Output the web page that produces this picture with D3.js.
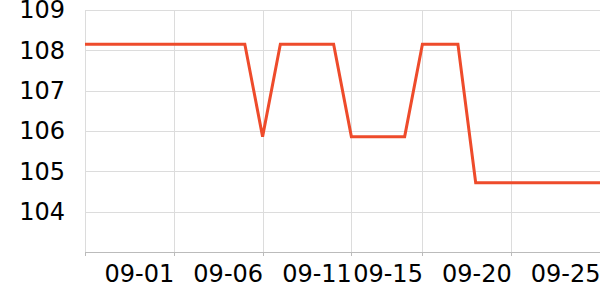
<!DOCTYPE html>
<html>
<head>
<meta charset="utf-8">
<script src="https://cdn.jsdelivr.net/npm/d3@7"></script>
<style>
  body { margin: 0; background: #fff; }
  svg { display: block; }
  text { font-family: "DejaVu Sans", sans-serif; font-size: 24px; fill: #000; }
</style>
</head>
<body>
<svg id="chart" width="600" height="300"></svg>
<script>
// daily dates 08-27 .. 09-25
var dates = ["2023-08-27", "2023-08-28", "2023-08-29", "2023-08-30", "2023-08-31",
    "2023-09-01", "2023-09-02", "2023-09-03", "2023-09-04", "2023-09-05",
    "2023-09-06", "2023-09-07", "2023-09-08", "2023-09-09", "2023-09-10",
    "2023-09-11", "2023-09-12", "2023-09-13", "2023-09-14", "2023-09-15",
    "2023-09-16", "2023-09-17", "2023-09-18", "2023-09-19", "2023-09-20",
    "2023-09-21", "2023-09-22", "2023-09-23", "2023-09-24", "2023-09-25"];
var values = [108.15, 108.15, 108.15, 108.15, 108.15, 108.15, 108.15, 108.15, 108.15, 108.15,
    105.86, 108.15, 108.15, 108.15, 108.15, 105.86, 105.86, 105.86, 105.86, 108.15,
    108.15, 108.15, 104.72, 104.72, 104.72, 104.72, 104.72, 104.72, 104.72, 104.72];
var xTicks = ["2023-08-27", "2023-09-01", "2023-09-06", "2023-09-11", "2023-09-15", "2023-09-20", "2023-09-25"];
var yTicks = [104, 105, 106, 107, 108, 109];
var yDomain = [103, 109];

var parse = d3.timeParse("%Y-%m-%d");
var data = dates.map(function(d, i) { return { date: parse(d), value: values[i] }; });
var tickDates = xTicks.map(parse);

var mLeft = 85, mRight = 600, mTop = 10, mBottom = 252;
var svg = d3.select("#chart");

var x = d3.scaleTime()
    .domain(d3.extent(data, function(d) { return d.date; }))
    .range([mLeft, mRight]);
var y = d3.scaleLinear().domain(yDomain).range([mBottom, mTop]);

// horizontal grid
svg.append("g")
    .attr("transform", "translate(" + mLeft + ",0)")
    .call(d3.axisLeft(y).tickValues(yTicks).tickSize(-(mRight - mLeft)).tickFormat(""))
    .call(function(g) {
        g.select(".domain").remove();
        g.selectAll("line").attr("stroke", "#dcdcdc").attr("shape-rendering", "crispEdges");
    });

// vertical grid
svg.append("g")
    .attr("transform", "translate(0," + mBottom + ")")
    .call(d3.axisBottom(x).tickValues(tickDates).tickSize(-(mBottom - mTop)).tickFormat(""))
    .call(function(g) {
        g.select(".domain").remove();
        g.selectAll("line").attr("stroke", "#dcdcdc").attr("shape-rendering", "crispEdges");
    });

// x axis
var fmt = d3.timeFormat("%m-%d");
svg.append("g")
    .attr("transform", "translate(0," + mBottom + ")")
    .call(d3.axisBottom(x).tickValues(tickDates).tickSize(4).tickPadding(9)
        .tickFormat(function(d, i) { return i === 0 ? "" : fmt(d); }))
    .call(function(g) {
        g.select(".domain").attr("stroke", "#bbb").attr("shape-rendering", "crispEdges");
        g.selectAll("line").attr("stroke", "#bbb").attr("shape-rendering", "crispEdges");
        g.selectAll("text").attr("text-anchor", "end").attr("font-size", null)
            .attr("font-family", null).attr("fill", "#000");
    });

// y axis labels
svg.append("g")
    .attr("transform", "translate(" + mLeft + ",0)")
    .call(d3.axisLeft(y).tickValues(yTicks).tickSize(0).tickPadding(20).tickFormat(d3.format("d")))
    .call(function(g) {
        g.select(".domain").remove();
        g.selectAll("text").attr("font-size", null).attr("font-family", null).attr("fill", "#000");
    });

// line
var line = d3.line()
    .x(function(d) { return x(d.date); })
    .y(function(d) { return y(d.value); });

svg.append("path")
    .datum(data)
    .attr("fill", "none")
    .attr("stroke", "#ee4b2b")
    .attr("stroke-width", 3)
    .attr("d", line);
</script>
</body>
</html>
